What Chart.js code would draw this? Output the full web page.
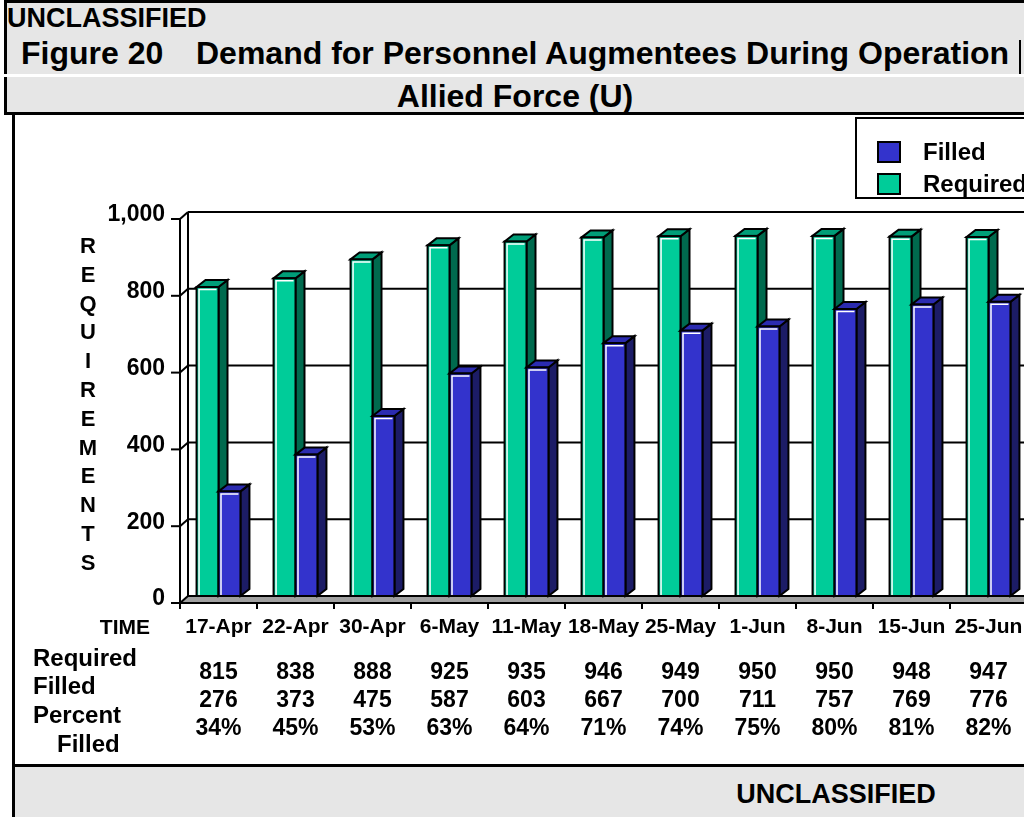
<!DOCTYPE html>
<html>
<head>
<meta charset="utf-8">
<title>Figure 20</title>
<script src="https://cdn.jsdelivr.net/npm/chart.js@4.4.1/dist/chart.umd.min.js"></script>
<style>
html, body { margin: 0; padding: 0; background: #fff; }
body {
  width: 1024px; height: 817px; overflow: hidden; position: relative;
  font-family: "Liberation Sans", Arial, sans-serif; font-weight: bold; color: #000;
}
#head1 { position: absolute; left: 4px; top: 0; width: 1040px; height: 71px; background: #e6e6e6;
  border-top: 3px solid #000; border-left: 3px solid #000; }
#head1r { position: absolute; left: 1019px; top: 40px; width: 2px; height: 34px; background: #000; }
#head2 { position: absolute; left: 4px; top: 77px; width: 1040px; height: 35px; background: #e6e6e6;
  border-left: 3px solid #000; border-bottom: 3px solid #000; }
#foot { position: absolute; left: 12px; top: 764px; width: 1040px; height: 50px; background: #e6e6e6;
  border-top: 3px solid #000; border-left: 3px solid #000; }
#leftline { position: absolute; left: 12px; top: 115px; width: 3px; height: 650px; background: #000; }
.t { position: absolute; white-space: pre; line-height: 1; }
#wrap { position: absolute; left: 15px; top: 115px; width: 1045px; height: 649px; }
</style>
</head>
<body>
<div id="head1"></div>
<div id="head1r"></div>
<div id="head2"></div>
<div id="leftline"></div>
<div id="foot"></div>
<div class="t" style="left:7px; top:5px; font-size:27px;">UNCLASSIFIED</div>
<div class="t" style="left:21px; top:37px; font-size:32px;">Figure 20</div>
<div class="t" style="left:196px; top:37px; font-size:32px;">Demand for Personnel Augmentees During Operation</div>
<div class="t" style="left:0; width:1030px; text-align:center; top:80px; font-size:32px;">Allied Force (U)</div>
<div class="t" style="left:0; width:1672px; text-align:center; top:781px; font-size:27px;">UNCLASSIFIED</div>
<div id="wrap"><canvas id="chart"></canvas></div>

<script>
// values
const categories = ['17-Apr', '22-Apr', '30-Apr', '6-May', '11-May', '18-May', '25-May', '1-Jun', '8-Jun', '15-Jun', '25-Jun'];
const required = [815, 838, 888, 925, 935, 946, 949, 950, 950, 948, 947];
const filled = [276, 373, 475, 587, 603, 667, 700, 711, 757, 769, 776];
const percentFilled = [34, 45, 53, 63, 64, 71, 74, 75, 80, 81, 82];
const yTicks = [0, 200, 400, 600, 800, 1000];
const axisLetters = 'REQUIREMENTS'.split('');

const FONT = '"Liberation Sans", Arial, sans-serif';
const DX = 8, DY = 7; // depth of the 3d walls and bars

const colours = {
    required: { front: '#00cc99', top: '#009e78', side: '#006a4e' },
    filled: { front: '#3333cc', top: '#2b2bb0', side: '#1c1c66' }
};

function line(ctx, x1, y1, x2, y2) {
    ctx.beginPath();
    ctx.moveTo(x1, y1);
    ctx.lineTo(x2, y2);
    ctx.stroke();
}

function poly(ctx, pts, fill) {
    ctx.beginPath();
    ctx.moveTo(pts[0][0], pts[0][1]);
    for (let i = 1; i < pts.length; i++) ctx.lineTo(pts[i][0], pts[i][1]);
    ctx.closePath();
    ctx.fillStyle = fill;
    ctx.fill();
    ctx.stroke();
}

function drawBar(ctx, x0, x1, top, base, c) {
    const dx = DX + 1;
    ctx.lineWidth = 2;
    ctx.strokeStyle = '#000';
    poly(ctx, [[x1, top], [x1 + dx, top - DY], [x1 + dx, base - DY], [x1, base]], c.side);
    poly(ctx, [[x0, top], [x0 + dx, top - DY], [x1 + dx, top - DY], [x1, top]], c.top);
    ctx.fillStyle = c.front;
    ctx.fillRect(x0, top, x1 - x0, base - top);
    ctx.strokeRect(x0, top, x1 - x0, base - top);
    // thin white highlight inside the front face
    ctx.strokeStyle = '#fff';
    ctx.lineWidth = 1.5;
    ctx.beginPath();
    ctx.moveTo(x0 + 2.5, base - 1);
    ctx.lineTo(x0 + 2.5, top + 2.5);
    ctx.lineTo(x1 - 2, top + 2.5);
    ctx.stroke();
}

const box3d = {
    id: 'box3d',
    beforeDatasetsDraw(chart) {
        const { ctx, chartArea: a, scales: { x, wall } } = chart;
        const right = chart.width;
        const y0 = wall.getPixelForValue(0);
        const yTop = wall.getPixelForValue(1000);
        ctx.save();
        ctx.strokeStyle = '#000';
        ctx.lineWidth = 2;
        // floor
        ctx.fillStyle = '#a0a0a0';
        ctx.beginPath();
        ctx.moveTo(a.left, y0 + DY);
        ctx.lineTo(a.left + DX, y0);
        ctx.lineTo(right, y0);
        ctx.lineTo(right, y0 + DY);
        ctx.closePath();
        ctx.fill();
        // back wall gridlines, side wall diagonals, tick marks
        yTicks.forEach(v => {
            const yy = wall.getPixelForValue(v);
            line(ctx, a.left + DX, yy, right, yy);
            line(ctx, a.left, yy + DY, a.left + DX, yy);
            line(ctx, a.left - 9, yy + DY, a.left, yy + DY);
        });
        line(ctx, a.left, yTop + DY, a.left, y0 + DY);
        line(ctx, a.left + DX, yTop, a.left + DX, y0);
        // floor front edge and category ticks
        line(ctx, a.left, y0 + DY, right, y0 + DY);
        for (let i = 0; i <= categories.length; i++) {
            const xx = x.getPixelForValue(i - 0.5);
            line(ctx, xx, y0 + DY, xx, y0 + DY + 6);
        }
        ctx.restore();
    },
    afterDatasetsDraw(chart) {
        const ctx = chart.ctx;
        const metas = [chart.getDatasetMeta(0), chart.getDatasetMeta(1)];
        const styles = [colours.required, colours.filled];
        ctx.save();
        categories.forEach((c, i) => {
            metas.forEach((meta, k) => {
                const p = meta.data[i].getProps(['x', 'y', 'base', 'width'], true);
                drawBar(ctx, p.x - p.width / 2, p.x + p.width / 2, p.y, p.base, styles[k]);
            });
        });
        ctx.restore();
    },
    afterDraw(chart) {
        const { ctx, scales: { x } } = chart;
        ctx.save();
        ctx.fillStyle = '#000';
        ctx.textBaseline = 'middle';

        // stacked axis title
        ctx.font = `bold 22px ${FONT}`;
        ctx.textAlign = 'center';
        axisLetters.forEach((ch, i) => ctx.fillText(ch, 73, 132 + i * 28.8));

        // data table under the axis
        ctx.font = `bold 21px ${FONT}`;
        ctx.textAlign = 'right';
        ctx.fillText('TIME', 135, 513);
        ctx.font = `bold 24px ${FONT}`;
        ctx.textAlign = 'left';
        ctx.fillText('Required', 18, 544);
        ctx.fillText('Filled', 18, 572);
        ctx.fillText('Percent', 18, 601);
        ctx.fillText('Filled', 42, 630);
        ctx.font = `bold 23px ${FONT}`;
        ctx.textAlign = 'center';
        categories.forEach((c, i) => {
            const xx = x.getPixelForValue(i);
            ctx.fillText(String(required[i]), xx, 558);
            ctx.fillText(String(filled[i]), xx, 586);
            ctx.fillText(percentFilled[i] + '%', xx, 614);
        });

        // legend box
        ctx.lineWidth = 2;
        ctx.strokeStyle = '#000';
        ctx.fillStyle = '#fff';
        ctx.fillRect(841, 3, 200, 80);
        ctx.strokeRect(841, 3, 200, 80);
        const ds = chart.data.datasets;
        const entries = [
            { label: ds[1].label, color: colours.filled.front, y: 37 },
            { label: ds[0].label, color: colours.required.front, y: 69 }
        ];
        ctx.font = `bold 24px ${FONT}`;
        ctx.textAlign = 'left';
        entries.forEach(e => {
            ctx.fillStyle = e.color;
            ctx.fillRect(863, e.y - 10, 22, 20);
            ctx.strokeRect(863, e.y - 10, 22, 20);
            ctx.fillStyle = '#000';
            ctx.fillText(e.label, 908, e.y + 1);
        });
        ctx.restore();
    }
};

Chart.defaults.font.family = FONT;
Chart.defaults.font.weight = 'bold';
Chart.defaults.color = '#000';

new Chart(document.getElementById('chart'), {
    type: 'bar',
    data: {
        labels: categories,
        datasets: [
            { label: 'Required', data: required, backgroundColor: colours.required.front, borderWidth: 0 },
            { label: 'Filled', data: filled, backgroundColor: colours.filled.front, borderWidth: 0 }
        ]
    },
    options: {
        responsive: true,
        maintainAspectRatio: false,
        animation: false,
        events: [],
        layout: { padding: { top: 97, right: 33, left: 0, bottom: 0 } },
        datasets: { bar: { categoryPercentage: 0.57, barPercentage: 1.0 } },
        plugins: { legend: { display: false }, tooltip: { enabled: false } },
        scales: {
            x: {
                grid: { display: false, drawTicks: false },
                border: { display: false },
                ticks: { font: { size: 21, weight: 'bold' }, padding: 19, maxRotation: 0, autoSkip: false },
                afterFit(scale) { scale.height = 168; }
            },
            // bars stand a little deeper than the front wall, so their scale is slightly flatter
            y: { display: false, min: 0, max: 1013 },
            wall: {
                position: 'left',
                min: 0,
                max: 1000,
                grid: { display: false, drawTicks: false },
                border: { display: false },
                ticks: { font: { size: 23, weight: 'bold' }, padding: 15, labelOffset: 3 },
                afterBuildTicks(scale) { scale.ticks = yTicks.map(v => ({ value: v })); },
                afterFit(scale) { scale.width = 165; }
            }
        }
    },
    plugins: [box3d]
});
</script>
</body>
</html>
